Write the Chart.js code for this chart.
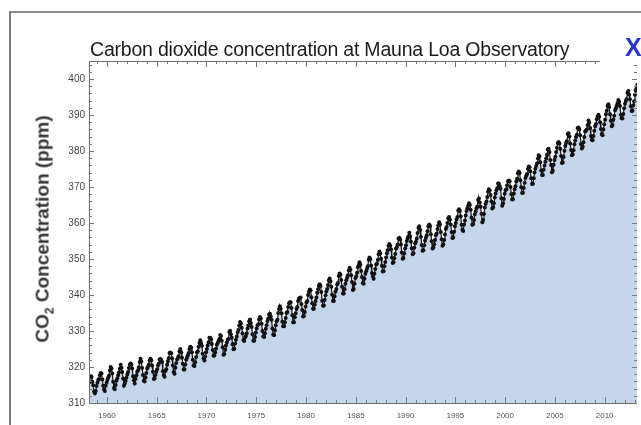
<!DOCTYPE html>
<html>
<head>
<meta charset="utf-8">
<script src="https://cdn.jsdelivr.net/npm/chart.js@4"></script>
<style>
  body { margin: 0; background: #fff; }
  #wrap { position: relative; width: 641px; height: 425px; overflow: hidden; }
  #frame { position: absolute; left: 9px; top: 11px; width: 700px; height: 500px;
           border-top: 2px solid #8c8c8c; border-left: 2px solid #7a7a7a; }
  #title { position: absolute; left: 90px; top: 38px; font: 19.5px "Liberation Sans", Arial, sans-serif;
           color: #1c1c1c; white-space: nowrap; letter-spacing: -0.2px; }
  #ytitle { position: absolute; left: 44px; top: 229px; transform: translate(-50%, -50%) rotate(-90deg);
            font: bold 19px "Liberation Sans", Arial, sans-serif; color: #333; white-space: nowrap; }
  #ytitle sub { font-size: 12px; }
  #close { position: absolute; left: 625px; top: 33px; font: bold 25px "Liberation Sans", Arial, sans-serif;
           color: #2a35d0; }
  canvas { position: absolute; left: 0; top: 0; }
</style>
</head>
<body>
<div id="wrap">
  <div id="frame"></div>
  <canvas id="chart"></canvas>
  <div id="title">Carbon dioxide concentration at Mauna Loa Observatory</div>
  <div id="ytitle">CO<sub>2</sub> Concentration (ppm)</div>
  <div id="close">X</div>
</div>
<script>
// monthly means, ppm, starting March 1958
const firstYear = 1958
const firstMonth = 3

const co2_1958_1959 = [
  315.7, 317.5, 317.5, 317.2, 315.9, 314.9, 313.2, 312.7, 313.3, 314.7,
  315.6, 316.4, 316.7, 317.7, 318.3, 318.2, 316.5, 314.8, 313.8, 313.3, 314.8, 315.6
]
const co2_1960s = [
  316.4, 317.0, 317.6, 319.0, 320.0, 319.6, 318.2, 315.9, 314.2, 313.8, 315.0, 316.2,
  316.9, 317.7, 318.5, 319.5, 320.6, 319.8, 318.6, 316.8, 314.8, 315.4, 316.1, 317.0,
  317.9, 318.6, 319.7, 320.6, 321.0, 320.6, 319.6, 317.4, 316.3, 315.4, 316.7, 317.7,
  318.7, 319.1, 319.9, 321.4, 322.3, 321.5, 319.7, 317.8, 316.2, 316.0, 317.1, 318.3,
  319.6, 320.1, 320.7, 321.8, 322.3, 321.9, 320.4, 318.7, 316.7, 316.8, 317.8, 318.7,
  319.4, 320.4, 320.9, 322.1, 322.2, 321.9, 321.4, 318.8, 317.8, 317.3, 318.9, 319.4,
  320.6, 321.6, 322.4, 323.9, 324.0, 323.8, 322.4, 320.4, 318.6, 318.1, 319.8, 321.1,
  322.1, 322.5, 323.0, 324.4, 325.0, 324.1, 322.6, 320.9, 319.3, 319.3, 320.7, 322.0,
  322.6, 323.2, 323.9, 325.0, 325.6, 325.4, 324.1, 322.0, 320.4, 320.3, 321.3, 322.8,
  324.0, 324.4, 325.6, 326.7, 327.4, 326.7, 325.9, 323.7, 322.4, 321.8, 322.9, 324.1
]
const co2_1970s = [
  325.0, 326.0, 326.9, 328.1, 328.1, 327.7, 326.4, 324.7, 323.1, 323.2, 324.0, 325.1,
  326.2, 326.7, 327.2, 327.8, 328.9, 328.6, 327.3, 325.5, 323.4, 323.6, 324.8, 326.0,
  326.8, 327.6, 327.8, 329.7, 330.1, 329.1, 328.1, 326.3, 324.9, 325.1, 326.5, 327.6,
  328.5, 329.6, 330.3, 331.5, 332.5, 332.1, 330.9, 329.3, 327.5, 327.2, 328.2, 328.6,
  329.4, 330.7, 331.5, 332.7, 333.2, 332.2, 331.1, 329.1, 327.3, 327.3, 328.3, 329.6,
  330.7, 331.5, 331.9, 333.2, 333.9, 333.5, 332.0, 330.0, 328.5, 328.3, 329.4, 330.6,
  331.6, 332.8, 333.5, 334.6, 334.8, 334.0, 333.1, 330.7, 329.0, 328.8, 330.2, 331.6,
  332.7, 333.1, 335.0, 336.1, 336.9, 336.2, 334.9, 332.6, 331.3, 331.3, 332.4, 333.6,
  335.0, 335.3, 336.7, 337.7, 338.0, 338.0, 336.4, 334.4, 332.4, 332.4, 333.8, 334.9,
  336.1, 336.7, 338.3, 339.0, 339.2, 339.3, 337.5, 335.8, 334.0, 334.2, 335.3, 336.8
]
const co2_1980s = [
  337.9, 338.3, 340.0, 340.9, 341.5, 341.3, 339.4, 337.7, 336.2, 336.2, 337.3, 338.3,
  339.3, 340.6, 341.6, 342.5, 343.0, 342.5, 340.8, 338.4, 337.0, 337.1, 338.6, 339.9,
  341.0, 341.7, 342.8, 344.0, 344.6, 343.8, 342.3, 340.1, 338.3, 338.3, 339.6, 340.9,
  341.7, 342.9, 343.3, 345.3, 346.0, 345.6, 344.2, 342.3, 340.4, 340.4, 341.6, 343.1,
  344.1, 344.8, 345.5, 346.8, 347.6, 347.0, 345.5, 343.6, 341.4, 341.7, 343.1, 344.7,
  345.2, 346.2, 347.7, 348.3, 349.1, 348.4, 346.7, 345.0, 343.3, 343.1, 344.5, 345.9,
  346.6, 347.3, 348.0, 349.8, 350.4, 349.9, 348.2, 346.1, 345.2, 344.5, 345.9, 347.2,
  348.5, 348.7, 349.7, 351.3, 352.1, 351.5, 350.1, 348.1, 346.5, 346.6, 348.0, 349.2,
  350.4, 351.6, 352.4, 353.7, 354.2, 353.7, 352.7, 350.4, 348.9, 349.1, 350.2, 351.4,
  352.9, 353.3, 354.0, 355.6, 355.9, 355.4, 354.0, 351.8, 350.1, 350.3, 351.5, 352.9
]
const co2_1990s = [
  353.8, 355.0, 355.7, 356.3, 357.3, 356.3, 354.8, 353.0, 351.3, 351.6, 353.1, 354.3,
  354.8, 355.7, 357.2, 358.7, 359.1, 358.1, 356.2, 353.9, 352.3, 352.4, 353.8, 355.1,
  355.9, 356.6, 357.7, 359.1, 359.6, 359.2, 356.9, 354.9, 352.9, 353.2, 354.1, 355.3,
  356.6, 357.1, 358.3, 359.4, 360.2, 359.6, 357.5, 355.5, 353.7, 354.0, 355.3, 356.8,
  358.3, 358.9, 360.0, 361.3, 361.7, 360.9, 359.6, 357.5, 355.8, 356.0, 357.6, 359.1,
  360.0, 361.0, 361.7, 363.5, 363.8, 363.3, 361.9, 359.5, 358.1, 357.8, 359.6, 360.7,
  362.1, 363.3, 364.1, 364.8, 365.5, 365.0, 363.7, 361.5, 359.5, 359.7, 360.8, 362.4,
  363.2, 364.1, 364.6, 366.4, 366.8, 365.7, 364.5, 362.6, 360.2, 360.8, 362.5, 364.3,
  365.3, 366.0, 367.2, 368.7, 369.4, 369.0, 367.8, 366.0, 364.0, 364.4, 365.5, 367.1,
  368.2, 369.1, 369.7, 371.0, 371.0, 370.3, 369.5, 366.9, 364.8, 365.4, 366.7, 368.1
]
const co2_2000s = [
  369.1, 369.4, 370.5, 371.6, 371.8, 371.6, 370.0, 368.0, 366.5, 366.6, 368.2, 369.4,
  370.2, 371.5, 372.3, 373.8, 374.3, 373.9, 371.9, 369.9, 368.3, 368.4, 369.7, 371.2,
  372.5, 373.1, 373.6, 375.0, 375.7, 375.5, 374.4, 372.4, 370.8, 370.9, 372.4, 374.0,
  375.1, 375.8, 376.6, 377.9, 378.8, 378.5, 376.9, 374.6, 373.3, 373.3, 374.8, 376.0,
  377.0, 377.9, 378.9, 380.4, 380.6, 379.7, 377.5, 376.1, 374.1, 374.5, 376.2, 377.5,
  378.4, 379.7, 380.9, 382.2, 382.5, 382.1, 380.6, 378.6, 376.7, 376.8, 378.3, 380.1,
  381.4, 382.2, 382.7, 384.7, 384.9, 384.0, 382.1, 380.3, 378.8, 379.0, 380.2, 381.9,
  382.9, 383.9, 384.5, 386.4, 386.5, 386.0, 384.4, 381.9, 380.7, 381.2, 382.4, 383.9,
  385.4, 385.7, 386.0, 387.2, 388.5, 387.9, 386.4, 384.2, 383.1, 383.0, 384.2, 385.6,
  386.9, 387.5, 388.8, 389.6, 390.1, 389.5, 388.0, 386.1, 384.7, 384.4, 386.0, 387.4
]
const co2_2010s = [
  388.7, 390.2, 391.2, 392.5, 393.0, 392.2, 390.2, 388.4, 386.9, 387.2, 388.7, 389.8,
  391.3, 391.9, 392.6, 393.3, 394.2, 393.7, 392.5, 390.1, 389.1, 389.0, 390.3, 391.9,
  393.1, 393.9, 394.4, 396.2, 396.7, 395.7, 394.4, 392.4, 391.1, 391.2, 392.7, 393.8,
  395.6, 396.8, 397.4, 398.4
]

const xTickYears = [1960, 1965, 1970, 1975, 1980, 1985, 1990, 1995, 2000, 2005, 2010]
const yTickValues = [310, 320, 330, 340, 350, 360, 370, 380, 390, 400]

const monthly = [].concat(co2_1958_1959, co2_1960s, co2_1970s, co2_1980s, co2_1990s, co2_2000s, co2_2010s)
const points = monthly.map((v, i) => {
  const m = firstMonth - 1 + i
  return { x: firstYear + Math.floor(m / 12) + ((m % 12) + 0.5) / 12, y: v }
})

// inward tick marks and the frame round the plot
const innerTicks = {
  id: "innerTicks",
  afterDatasetsDraw(chart) {
    const { ctx, chartArea: a, scales: { x, y } } = chart
    ctx.save()
    ctx.strokeStyle = "#6e6e6e"
    ctx.lineWidth = 1
    ctx.beginPath()
    ctx.moveTo(a.left + 0.5, a.top)
    ctx.lineTo(a.left + 0.5, a.bottom + 0.5)
    ctx.lineTo(a.right, a.bottom + 0.5)
    ctx.moveTo(a.left, a.top + 0.5)
    ctx.lineTo(a.right - 37, a.top + 0.5)
    ctx.stroke()

    ctx.strokeStyle = "#7a7a7a"
    ctx.beginPath()
    for (let yr = 1959; yr <= 2013; yr++) {
      const px = Math.round(x.getPixelForValue(yr)) + 0.5
      const len = yr % 5 === 0 ? 6 : 3
      ctx.moveTo(px, a.bottom); ctx.lineTo(px, a.bottom - len)
      if (px < a.right - 37) { ctx.moveTo(px, a.top); ctx.lineTo(px, a.top + len) }
    }
    for (let v = 310; v <= 404; v += 2) {
      const py = Math.round(y.getPixelForValue(v)) + 0.5
      const len = v % 10 === 0 ? 5 : 3
      ctx.moveTo(a.left, py); ctx.lineTo(a.left + len, py)
      ctx.moveTo(a.right, py); ctx.lineTo(a.right - len, py)
    }
    ctx.stroke()
    ctx.restore()
  }
}

new Chart(document.getElementById("chart"), {
  type: "line",
  data: {
    datasets: [{
      data: points,
      borderColor: "#151515",
      borderWidth: 1.2,
      pointRadius: 2,
      pointBorderWidth: 0,
      pointBackgroundColor: "#111",
      backgroundColor: "#c6d6ea",
      fill: "start",
      tension: 0
    }]
  },
  options: {
    responsive: true,
    maintainAspectRatio: false,
    animation: false,
    layout: { padding: { left: 0, top: 61, right: 4, bottom: 0 } },
    plugins: { legend: { display: false }, tooltip: { enabled: false } },
    scales: {
      x: {
        type: "linear",
        min: 1958.2,
        max: 2013.25,
        afterBuildTicks: (s) => { s.ticks = xTickYears.map(v => ({ value: v })) },
        afterFit: (s) => { s.height = 22 },
        grid: { display: false, drawTicks: false },
        border: { display: false },
        ticks: {
          color: "#555", font: { family: "Liberation Sans", size: 8 }, padding: 8,
          maxRotation: 0, autoSkip: false, callback: (v) => String(v)
        }
      },
      y: {
        min: 310,
        max: 405,
        afterBuildTicks: (s) => { s.ticks = yTickValues.map(v => ({ value: v })) },
        afterFit: (s) => { s.width = 89 },
        grid: { display: false, drawTicks: false },
        border: { display: false },
        ticks: { color: "#444", font: { family: "Liberation Sans", size: 10 }, padding: 4, autoSkip: false }
      }
    }
  },
  plugins: [innerTicks]
})
</script>
</body>
</html>
